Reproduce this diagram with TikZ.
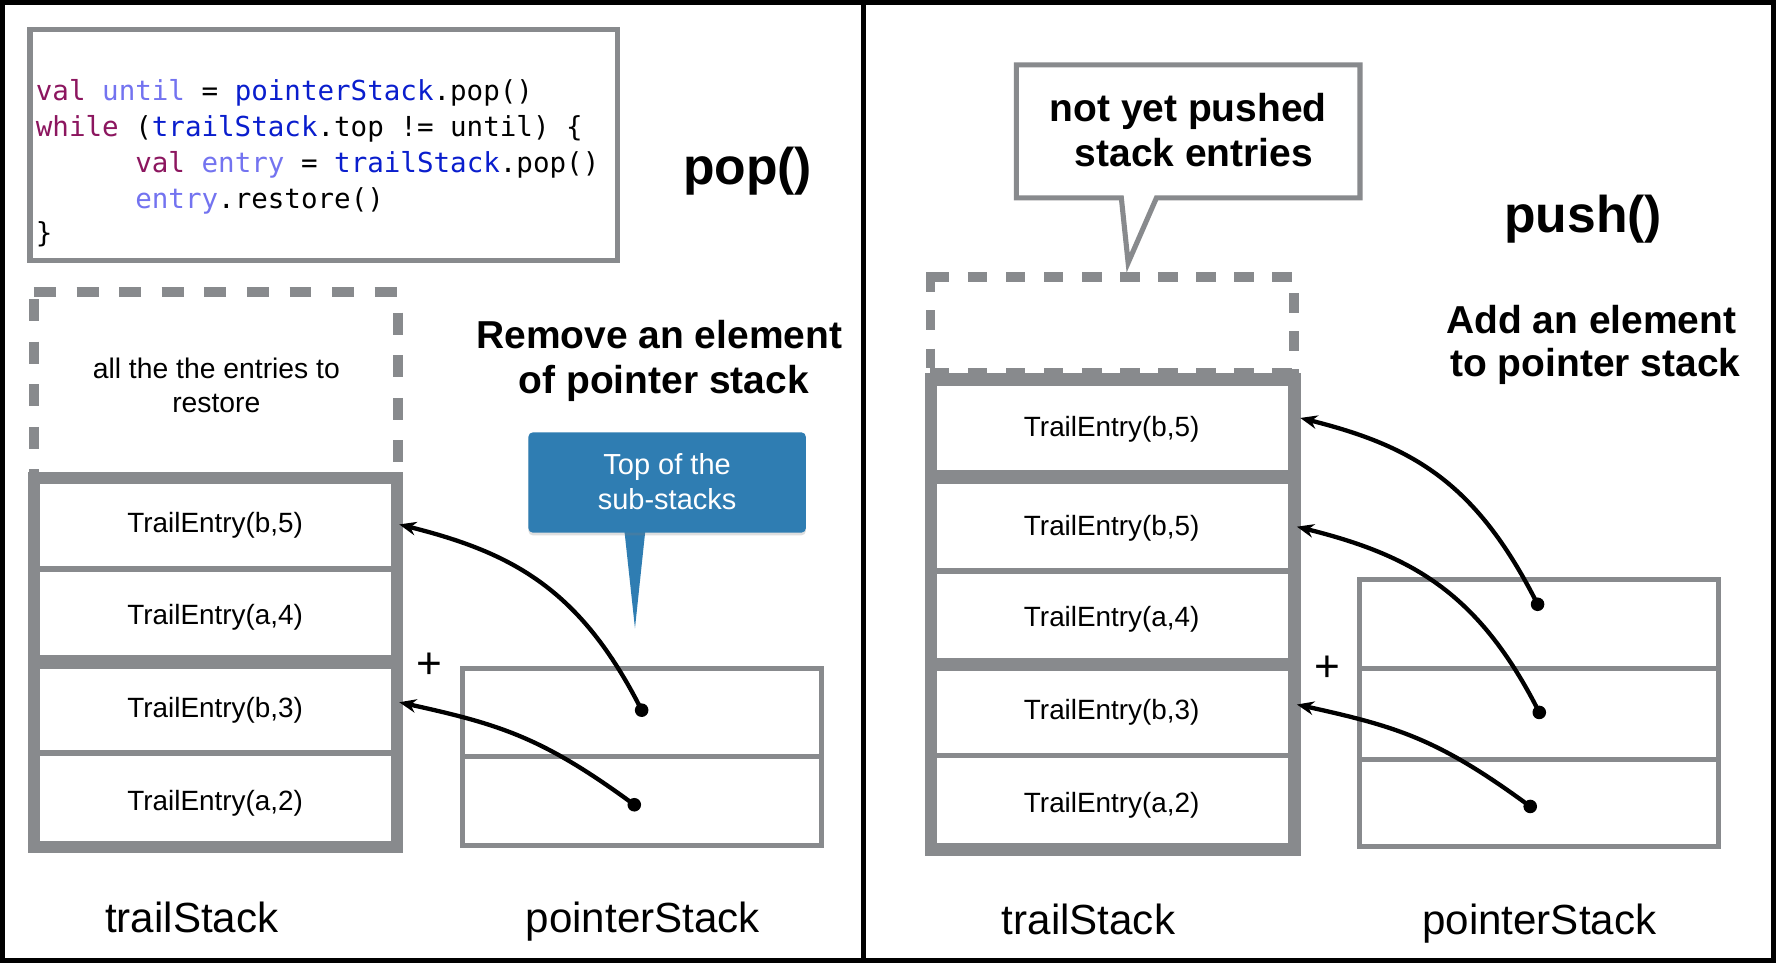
\documentclass[tikz,border=0pt]{standalone}
\usepackage{fontspec}
\setmainfont{Liberation Sans}
\newfontfamily\codefont{DejaVu Sans Mono}
\usetikzlibrary{arrows.meta,shadows}
\definecolor{stackgray}{RGB}{136,138,141}
\definecolor{calloutblue}{RGB}{47,125,178}
\definecolor{kwpurple}{RGB}{140,22,95}
\definecolor{varlilac}{RGB}{115,115,240}
\definecolor{objblue}{RGB}{10,30,205}
\begin{document}
\begin{tikzpicture}[x=0.5pt,y=-0.5pt,
  every node/.style={inner sep=0pt, outer sep=0pt},
  frameline/.style={draw=black, line width=2.25pt},
  graybox/.style={draw=stackgray, line width=2.25pt},
  stackband/.style={draw=stackgray, line width=5.3pt},
  thinsep/.style={draw=stackgray, line width=2.6pt},
  thicksep/.style={draw=stackgray, line width=5.8pt},
  ldash/.style={draw=stackgray, line width=4.6pt, dash pattern=on 9.7pt off 9.1pt},
  rdash/.style={draw=stackgray, line width=4.2pt, dash pattern=on 8.55pt off 8.25pt},
  codetext/.style={font=\codefont\fontsize{12.15pt}{14pt}\selectfont, anchor=base west},
  entrytext/.style={font=\fontsize{12.3pt}{14pt}\selectfont},
  notetext/.style={font=\fontsize{12.5pt}{15pt}\selectfont, anchor=base},
  whitetext/.style={font=\fontsize{12.8pt}{15pt}\selectfont, text=white, anchor=base},
  titletext/.style={font=\bfseries\fontsize{22.8pt}{26pt}\selectfont, anchor=base},
  headtext/.style={font=\bfseries\fontsize{17.2pt}{20pt}\selectfont, anchor=base},
  labeltext/.style={font=\fontsize{18.6pt}{22pt}\selectfont, anchor=base},
  plustext/.style={font=\fontsize{19.5pt}{22pt}\selectfont},
  dot/.style={circle, fill=black, minimum size=6pt},
  ptr/.style={draw=black, line width=1.9pt, -{Stealth[length=7.5pt,width=6pt]}},
  bluebox/.style={fill=calloutblue, rounded corners=2pt, minimum width=122.5pt, minimum height=44.3pt,
    drop shadow={shadow xshift=0pt, shadow yshift=-1.2pt, opacity=0.25}}
]
\fill[white] (0,0) rectangle (1568,850);
\useasboundingbox (0,0) rectangle (1568,850);

% ---------- frame ----------
\draw[frameline] (2.25,2.25) rectangle (1565.5,847.75);
\draw[black, line width=2.5pt] (762.5,0) -- (762.5,850);

% ---------- LEFT PANEL ----------
% code box
\draw[graybox] (26.5,26) rectangle (545,230);
\node[codetext] (code1) at (31.7,88.3) {\textcolor{kwpurple}{val} \textcolor{varlilac}{until} = \textcolor{objblue}{pointerStack}.pop()};
\node[codetext] (code2) at (31.7,120.5) {\textcolor{kwpurple}{while} (\textcolor{objblue}{trailStack}.top != until) \{};
\node[codetext] (code3) at (119.5,152.5) {\textcolor{kwpurple}{val} \textcolor{varlilac}{entry} = \textcolor{objblue}{trailStack}.pop()};
\node[codetext] (code4) at (119.5,184.5) {\textcolor{varlilac}{entry}.restore()};
\node[codetext] (code5) at (31.7,214) {\}};

\node[titletext] (poptitle) at (660,162.5) {pop()};
\node[headtext] (remove1) at (582,307.5) {Remove an element};
\node[headtext] (remove2) at (586,347.5) {of pointer stack};

% dashed box (entries to restore)
\draw[ldash] (30,258) -- (356,258);
\draw[ldash, dash phase=15.8pt] (30,258) -- (30,417);
\draw[ldash, dash phase=9.8pt] (351.5,258) -- (351.5,417);
\node[notetext] (restore1) at (191,334.6) {all the the entries to};
\node[notetext] (restore2) at (191,364) {restore};

% trail stack (left)
\draw[stackband] (30,422) rectangle (350.4,747.5);
\draw[thinsep] (30,502.3) -- (350.4,502.3);
\draw[thicksep] (30,584.5) -- (350.4,584.5);
\draw[thinsep] (30,664.5) -- (350.4,664.5);
\node[entrytext] (lb5) at (190,464) {TrailEntry(b,5)};
\node[entrytext] (la4) at (190,545) {TrailEntry(a,4)};
\node[entrytext] (lb3) at (190,627) {TrailEntry(b,3)};
\node[entrytext] (la2) at (190,709) {TrailEntry(a,2)};
\node[plustext] (lplus) at (379.5,588) {+};

% pointer stack (left)
\draw[graybox] (408.5,590.5) rectangle (725.5,746.5);
\draw[graybox] (408.5,667.5) -- (725.5,667.5);

% blue callout
\fill[calloutblue] (551,466) -- (570,466) -- (560.6,554.7) -- cycle;
\node[bluebox] (topbox) at (589,426) {};
\node[whitetext] (top1) at (589,418.8) {Top of the};
\node[whitetext] (top2) at (589,449.7) {sub-stacks};

\node[labeltext] (ltrail) at (169.3,823.5) {trailStack};
\node[labeltext] (lpointer) at (567.5,823.5) {pointerStack};

% left pointers
\node[dot] (ld1) at (566.5,627) {};
\node[dot] (ld2) at (560,710.5) {};
\coordinate (lt1) at (352.5,463);
\coordinate (lt2) at (352.5,620);
\draw[ptr] (ld1.center) .. controls +(-54,-107) and +(100,25) .. (lt1);
\draw[ptr] (ld2.center) .. controls +(-80.6,-59.2) and +(90,19.8) .. (lt2);

% ---------- RIGHT PANEL ----------
% callout "not yet pushed"
\draw[graybox, fill=white] (897.3,57.3) -- (1200.7,57.3) -- (1200.7,174.7) -- (1021,174.7)
  -- (996,232) -- (990,174.7) -- (897.3,174.7) -- cycle;
\node[headtext] (notyet1) at (1049,107.3) {not yet pushed};
\node[headtext] (notyet2) at (1054,147) {stack entries};

\node[titletext] (pushtitle) at (1397.7,205) {push()};
\node[headtext] (add1) at (1405,294) {Add an element};
\node[headtext] (add2) at (1408.5,332) {to pointer stack};

% dashed box (not yet pushed)
\draw[rdash] (821,244.5) -- (1147,244.5);
\draw[rdash] (821.3,240.5) -- (821.3,332);
\draw[rdash, dash phase=9.55pt] (1142.5,244.5) -- (1142.5,332);
\draw[rdash] (821,329.5) -- (1147,329.5);

% trail stack (right)
\draw[stackband, line width=5.5pt] (822,335) rectangle (1142.8,750);
\draw[thicksep, line width=6.2pt] (822,421) -- (1142.8,421);
\draw[thinsep] (822,504) -- (1142.8,504);
\draw[thicksep] (822,586.5) -- (1142.8,586.5);
\draw[thinsep] (822,667) -- (1142.8,667);
\node[entrytext] (rb5top) at (981.5,379) {TrailEntry(b,5)};
\node[entrytext] (rb5) at (981.5,466) {TrailEntry(b,5)};
\node[entrytext] (ra4) at (981.5,547) {TrailEntry(a,4)};
\node[entrytext] (rb3) at (981.5,629) {TrailEntry(b,3)};
\node[entrytext] (ra2) at (981.5,711) {TrailEntry(a,2)};
\node[plustext] (rplus) at (1171.5,590) {+};

% pointer stack (right)
\draw[graybox] (1200.5,511.5) rectangle (1517.5,747.5);
\draw[graybox] (1200.5,590.5) -- (1517.5,590.5);
\draw[graybox] (1200.5,670.5) -- (1517.5,670.5);

\node[labeltext] (rtrail) at (961,825) {trailStack};
\node[labeltext] (rpointer) at (1359,825) {pointerStack};

% right pointers
\node[dot] (rd1) at (1357.5,533.5) {};
\node[dot] (rd2) at (1359,629) {};
\node[dot] (rd3) at (1351,712) {};
\coordinate (rt1) at (1148,369);
\coordinate (rt2) at (1145,465);
\coordinate (rt3) at (1145,622);
\draw[ptr] (rd1.center) .. controls +(-54,-107) and +(100,25) .. (rt1);
\draw[ptr] (rd2.center) .. controls +(-54,-107) and +(100,25) .. (rt2);
\draw[ptr] (rd3.center) .. controls +(-80.6,-59.2) and +(90,19.8) .. (rt3);
\end{tikzpicture}
\end{document}
